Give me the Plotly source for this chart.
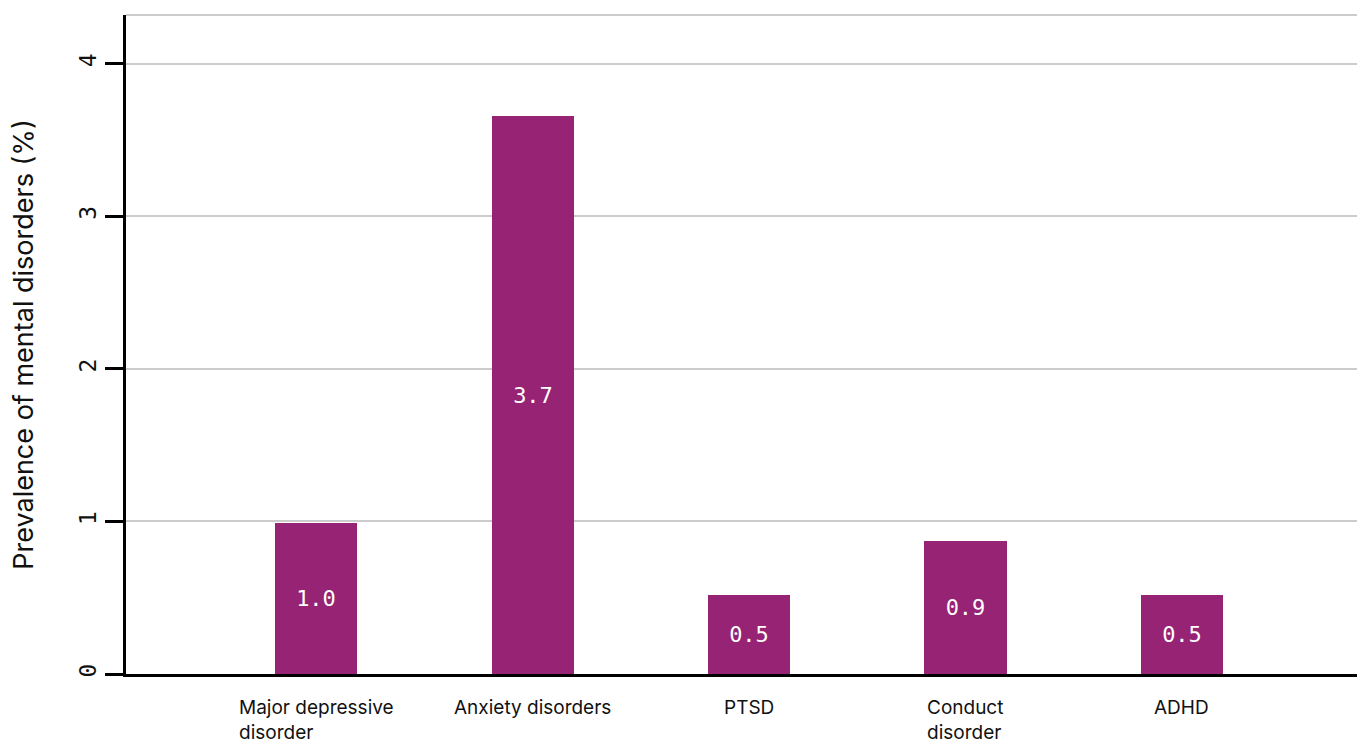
import plotly.graph_objects as go

categories = ["Major depressive<br>disorder", "Anxiety disorders", "PTSD", "Conduct<br>disorder", "ADHD"]
values = [0.99, 3.66, 0.52, 0.87, 0.52]
value_labels = ["1.0", "3.7", "0.5", "0.9", "0.5"]
y_ticks = [0, 1, 2, 3, 4]

BAR = "#962373"
GRID = "#cccccc"

fig = go.Figure()
fig.add_trace(go.Bar(
    x=categories, y=values, text=value_labels,
    marker=dict(color=BAR, line=dict(width=0)),
    width=0.38,
    textposition="inside", insidetextanchor="middle",
    textfont=dict(family="DejaVu Sans Mono", size=22, color="white"),
    textangle=0, cliponaxis=False, hoverinfo="skip",
))

for c in categories:
    fig.add_annotation(
        x=c, xref="x", y=0, yref="paper", yanchor="top", xanchor="center",
        text=c, showarrow=False, align="left", yshift=-20,
        font=dict(family="Inter", size=19, color="#111"),
    )

fig.add_shape(type="line", xref="paper", yref="paper", x0=0, x1=1, y0=1, y1=1,
              line=dict(color=GRID, width=2), layer="below")

fig.update_layout(
    width=1363, height=747,
    margin=dict(l=126, r=6, t=15, b=73),
    paper_bgcolor="white", plot_bgcolor="white",
    showlegend=False, bargap=0,
    xaxis=dict(
        type="category", range=[-0.88, 4.81],
        showticklabels=False, showgrid=False, zeroline=False,
        showline=True, linecolor="black", linewidth=2.5, ticks="",
    ),
    yaxis=dict(
        range=[0, 4.32], tickvals=y_ticks, ticktext=[str(t) for t in y_ticks],
        tickangle=-90, ticks="outside", ticklen=18, tickwidth=2.5, tickcolor="black",
        showline=True, linecolor="black", linewidth=2.5,
        showgrid=True, gridcolor=GRID, gridwidth=2, zeroline=False,
        tickfont=dict(family="DejaVu Sans Mono", size=23, color="#111"),
        title=dict(text="Prevalence of mental disorders (%)", standoff=34,
                   font=dict(family="Inter", size=27, color="#111")),
    ),
)

fig.write_html("out.html")
